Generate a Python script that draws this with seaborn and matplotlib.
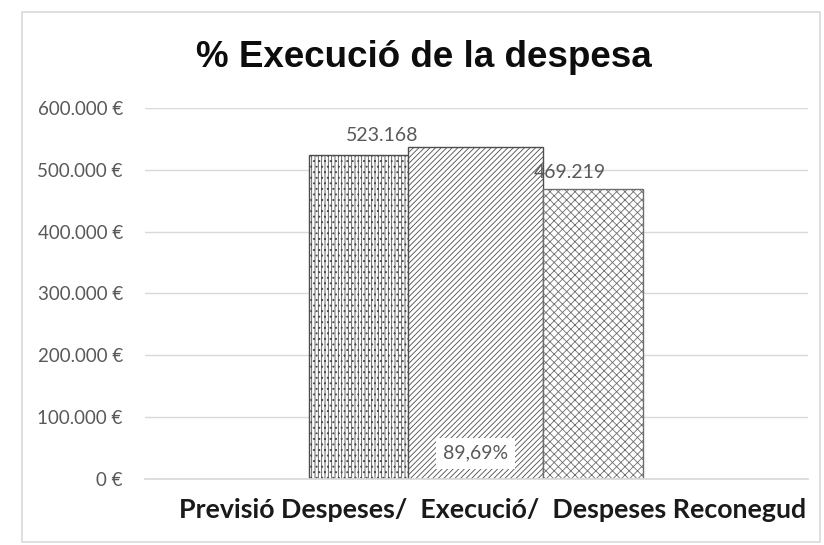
import matplotlib
matplotlib.use("Agg")
import matplotlib.pyplot as plt
import matplotlib.transforms as mtransforms
import seaborn as sns
import pandas as pd
from matplotlib.ticker import FuncFormatter
from matplotlib.patches import Rectangle

# data
category = "Previsió Despeses/  Execució/  Despeses Reconegud"
series = ["Previsió Despeses", "Execució", "Despeses Reconegudes"]
values = [523168, 537000, 469219]
labels = ["523.168", "89,69%", "469.219"]
y_ticks = [0, 100000, 200000, 300000, 400000, 500000, 600000]

df = pd.DataFrame({"cat": [category] * 3, "serie": series, "valor": values})

sns.set_theme(style="white")
plt.rcParams["font.family"] = ["Lato", "DejaVu Sans"]
plt.rcParams["hatch.linewidth"] = 0.6

fig = plt.figure(figsize=(8.24, 5.45), dpi=100)
fig.patches.append(Rectangle((0.027, 0.005), 0.968, 0.973, transform=fig.transFigure,
                             fill=False, edgecolor="#d9d9d9", linewidth=1.2))
ax = fig.add_axes([0.176, 0.121, 0.805, 0.681])

sns.barplot(data=df, x="cat", y="valor", hue="serie", ax=ax, width=0.505, gap=0,
            palette=["white", "white", "white"], edgecolor="#4d4d4d", linewidth=1.0,
            legend=False)

hatches = ["|||||...", "//////", "xxxx"]
edges = ["#4d4d4d", "#4d4d4d", "#6e6e6e"]
widths = [0.151, 0.203, 0.151]
centers = [-0.178, -0.002, 0.175]
bars = [p for p in ax.patches if p.get_height() > 0]
for bar, h, e, w, c in zip(bars, hatches, edges, widths, centers):
    bar.set_hatch(h)
    bar.set_edgecolor(e)
    bar.set_width(w)
    bar.set_x(c - w / 2)

# data labels
ax.text(centers[0] + 0.035, values[0] + 18000, labels[0], ha="center", va="bottom",
        fontsize=14, color="#595959")
ax.text(centers[2] - 0.035, values[2] + 12000, labels[2], ha="center", va="bottom",
        fontsize=14, color="#595959")
ax.text(centers[1], 42000, labels[1], ha="center", va="center", fontsize=14,
        color="#595959", bbox=dict(facecolor="white", edgecolor="none", pad=5))

ax.set_xlim(-0.5, 0.5)
ax.set_ylim(0, 600000)
ax.set_yticks(y_ticks)
ax.yaxis.set_major_formatter(FuncFormatter(
    lambda v, p: "0 €" if v == 0 else f"{int(v):,} €".replace(",", ".")))
ax.grid(axis="y", color="#d9d9d9", linewidth=1)
ax.set_axisbelow(True)
for s in ["top", "right", "left"]:
    ax.spines[s].set_visible(False)
ax.spines["bottom"].set_color("#d9d9d9")
ax.tick_params(axis="y", labelsize=13.5, colors="#595959", length=0, pad=16)
ax.tick_params(axis="x", length=0, pad=14)
shift = mtransforms.ScaledTranslation(16 / 100, 0, fig.dpi_scale_trans)
for t in ax.get_xticklabels():
    t.set_fontsize(19.3)
    t.set_fontweight("bold")
    t.set_color("#1a1a1a")
    t.set_transform(t.get_transform() + shift)
ax.set_xlabel("")
ax.set_ylabel("")

fig.text(0.514, 0.895, "% Execució de la despesa", ha="center", va="center",
         fontsize=26.5, fontweight="bold", family=["Liberation Sans", "DejaVu Sans"],
         color="#0d0d0d")

fig.savefig("out.png", dpi=100)
